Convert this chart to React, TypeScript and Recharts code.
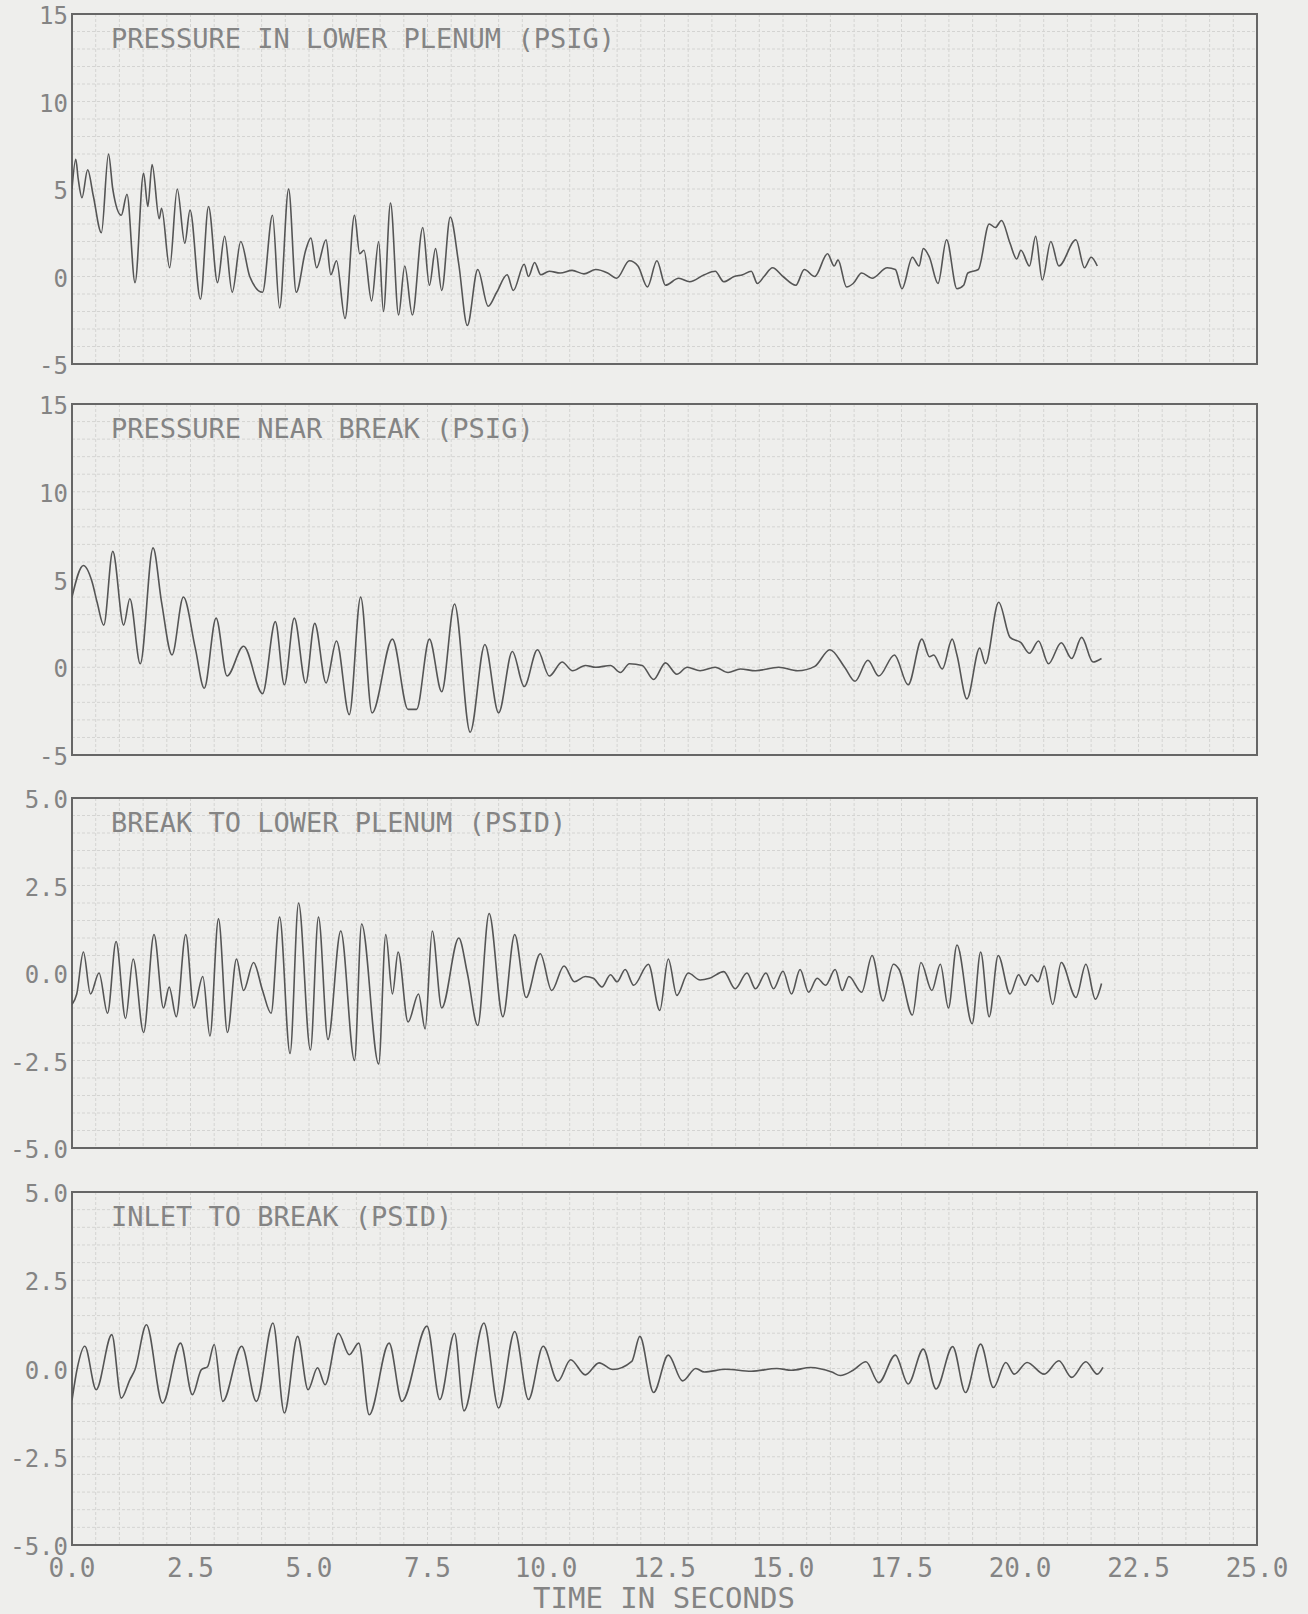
import React from 'react';
import { LineChart, Line, XAxis, YAxis, CartesianGrid, ReferenceArea } from 'recharts';

const FONT = '"DejaVu Sans Mono", "Liberation Mono", monospace';
const INK = '#848484';
const FRAME = '#666666';
const TRACE = '#555555';
const GRID = '#d4d4d2';
const PAPER = '#eeeeec';

// ---------- data (time in seconds, value) ----------
const p1Time = [0.0, 0.08, 0.13, 0.21, 0.33, 0.45, 0.62, 0.77, 0.86, 1.04, 1.16, 1.33, 1.51, 1.6, 1.69, 1.84, 1.89, 2.06, 2.22, 2.38, 2.49, 2.71, 2.88, 3.07, 3.22, 3.38, 3.56, 3.75, 4.02, 4.23, 4.38, 4.57, 4.73, 4.93, 5.04, 5.16, 5.36, 5.46, 5.58, 5.76, 5.96, 6.07, 6.16, 6.32, 6.47, 6.57, 6.72, 6.89, 7.02, 7.18, 7.4, 7.54, 7.67, 7.8, 7.98, 8.16, 8.34, 8.56, 8.78, 8.96, 9.18, 9.31, 9.54, 9.63, 9.76, 9.89, 10.07, 10.3, 10.55, 10.8, 11.05, 11.3, 11.49, 11.76, 11.94, 12.14, 12.34, 12.52, 12.8, 13.03, 13.34, 13.57, 13.75, 13.97, 14.15, 14.33, 14.46, 14.6, 14.78, 15.0, 15.27, 15.45, 15.67, 15.94, 16.08, 16.16, 16.34, 16.48, 16.66, 16.88, 17.2, 17.37, 17.51, 17.73, 17.87, 17.96, 18.09, 18.27, 18.45, 18.67, 18.81, 18.9, 19.12, 19.35, 19.48, 19.61, 19.79, 19.93, 20.02, 20.2, 20.33, 20.47, 20.65, 20.82, 21.18, 21.36, 21.5, 21.63];
const p1Value = [5.0, 6.7, 5.6, 4.5, 6.1, 4.6, 2.5, 7.0, 5.0, 3.5, 4.7, -0.35, 5.9, 4.0, 6.4, 3.3, 3.9, 0.5, 5.0, 1.9, 3.8, -1.3, 4.0, -0.35, 2.3, -0.9, 2.0, 0.0, -0.9, 3.5, -1.8, 5.0, -0.9, 1.5, 2.2, 0.5, 2.1, 0.1, 0.9, -2.4, 3.5, 1.3, 1.5, -1.4, 2.0, -2.0, 4.2, -2.2, 0.6, -2.2, 2.8, -0.5, 1.6, -0.8, 3.4, 0.7, -2.8, 0.4, -1.7, -0.9, 0.1, -0.8, 0.7, 0.0, 0.8, 0.1, 0.3, 0.2, 0.35, 0.15, 0.4, 0.2, -0.1, 0.9, 0.6, -0.6, 0.9, -0.5, -0.1, -0.3, 0.1, 0.3, -0.3, 0.0, 0.1, 0.3, -0.4, 0.0, 0.5, 0.0, -0.5, 0.4, 0.0, 1.3, 0.6, 0.95, -0.6, -0.4, 0.2, -0.1, 0.5, 0.4, -0.7, 1.1, 0.6, 1.6, 1.1, -0.4, 2.1, -0.7, -0.5, 0.2, 0.4, 3.0, 2.8, 3.2, 1.9, 1.0, 1.5, 0.6, 2.3, -0.2, 2.0, 0.6, 2.1, 0.5, 1.1, 0.6];

const p2Time = [0.0, 0.24, 0.42, 0.53, 0.67, 0.86, 1.09, 1.22, 1.44, 1.71, 1.89, 2.11, 2.35, 2.6, 2.79, 3.04, 3.27, 3.62, 4.02, 4.29, 4.48, 4.69, 4.93, 5.12, 5.36, 5.58, 5.85, 6.09, 6.33, 6.76, 7.09, 7.27, 7.54, 7.8, 8.07, 8.4, 8.71, 9.0, 9.29, 9.54, 9.82, 10.07, 10.34, 10.56, 10.83, 11.05, 11.36, 11.57, 11.76, 12.03, 12.27, 12.52, 12.76, 12.98, 13.25, 13.57, 13.84, 14.1, 14.42, 14.91, 15.31, 15.67, 15.99, 16.3, 16.52, 16.79, 17.02, 17.35, 17.64, 17.93, 18.09, 18.18, 18.36, 18.57, 18.67, 18.88, 19.15, 19.27, 19.55, 19.79, 20.02, 20.2, 20.39, 20.6, 20.87, 21.09, 21.3, 21.54, 21.72];
const p2Value = [4.0, 5.8, 4.9, 3.7, 2.4, 6.6, 2.4, 3.9, 0.2, 6.8, 3.7, 0.7, 4.0, 1.1, -1.2, 2.8, -0.5, 1.2, -1.5, 2.6, -1.0, 2.8, -0.9, 2.5, -0.9, 1.5, -2.7, 4.0, -2.6, 1.6, -2.4, -2.4, 1.6, -1.4, 3.6, -3.7, 1.3, -2.6, 0.9, -1.1, 1.0, -0.5, 0.3, -0.2, 0.1, 0.0, 0.1, -0.3, 0.2, 0.1, -0.7, 0.25, -0.4, 0.0, -0.2, 0.0, -0.3, -0.1, -0.2, 0.0, -0.2, 0.05, 1.0, 0.0, -0.8, 0.4, -0.5, 0.7, -1.0, 1.6, 0.6, 0.7, -0.1, 1.6, 0.7, -1.8, 1.1, 0.2, 3.7, 1.7, 1.4, 0.8, 1.5, 0.2, 1.4, 0.5, 1.7, 0.3, 0.5];

const p3Time = [0.0, 0.1, 0.24, 0.39, 0.57, 0.75, 0.93, 1.13, 1.29, 1.51, 1.73, 1.93, 2.05, 2.2, 2.4, 2.57, 2.76, 2.91, 3.09, 3.28, 3.47, 3.62, 3.83, 4.02, 4.2, 4.38, 4.6, 4.78, 5.03, 5.2, 5.4, 5.67, 5.96, 6.11, 6.47, 6.62, 6.76, 6.88, 7.09, 7.31, 7.45, 7.6, 7.8, 8.16, 8.34, 8.56, 8.8, 9.09, 9.34, 9.58, 9.88, 10.12, 10.38, 10.6, 10.83, 11.0, 11.18, 11.36, 11.5, 11.67, 11.85, 12.16, 12.4, 12.58, 12.76, 13.0, 13.25, 13.45, 13.75, 13.99, 14.24, 14.42, 14.64, 14.8, 15.0, 15.18, 15.36, 15.54, 15.72, 15.9, 16.1, 16.25, 16.39, 16.66, 16.88, 17.11, 17.33, 17.45, 17.73, 17.91, 18.14, 18.32, 18.49, 18.67, 18.99, 19.17, 19.35, 19.54, 19.79, 19.97, 20.11, 20.24, 20.38, 20.51, 20.69, 20.87, 21.18, 21.39, 21.59, 21.72];
const p3Value = [-0.9, -0.6, 0.6, -0.6, 0.0, -1.15, 0.9, -1.3, 0.4, -1.7, 1.1, -1.0, -0.4, -1.25, 1.1, -1.0, -0.1, -1.8, 1.55, -1.7, 0.4, -0.5, 0.3, -0.5, -1.15, 1.6, -2.3, 2.0, -2.2, 1.6, -1.9, 1.2, -2.5, 1.4, -2.6, 1.1, -0.6, 0.6, -1.4, -0.6, -1.6, 1.2, -1.0, 1.0, 0.0, -1.5, 1.7, -1.25, 1.1, -0.7, 0.55, -0.5, 0.2, -0.25, -0.1, -0.15, -0.4, -0.05, -0.25, 0.1, -0.35, 0.25, -1.07, 0.4, -0.64, 0.0, -0.2, -0.15, 0.04, -0.45, 0.0, -0.45, 0.0, -0.45, 0.05, -0.6, 0.1, -0.55, -0.15, -0.35, 0.1, -0.5, -0.1, -0.55, 0.5, -0.8, 0.25, 0.1, -1.2, 0.3, -0.5, 0.25, -1.0, 0.8, -1.45, 0.6, -1.25, 0.5, -0.6, -0.05, -0.35, -0.05, -0.25, 0.2, -0.9, 0.3, -0.7, 0.25, -0.75, -0.3];

const p4Time = [0.0, 0.11, 0.27, 0.51, 0.84, 1.04, 1.22, 1.33, 1.57, 1.91, 2.29, 2.54, 2.73, 2.86, 3.0, 3.18, 3.58, 3.89, 4.24, 4.48, 4.76, 4.98, 5.18, 5.34, 5.62, 5.85, 6.05, 6.27, 6.69, 6.96, 7.49, 7.76, 8.07, 8.27, 8.69, 9.0, 9.34, 9.63, 9.94, 10.25, 10.52, 10.83, 11.12, 11.41, 11.81, 11.98, 12.27, 12.58, 12.88, 13.16, 13.34, 13.79, 14.33, 14.87, 15.18, 15.58, 16.03, 16.21, 16.48, 16.75, 17.02, 17.37, 17.64, 17.96, 18.23, 18.58, 18.85, 19.17, 19.44, 19.7, 19.88, 20.15, 20.51, 20.82, 21.09, 21.39, 21.63, 21.75];
const p4Value = [-0.9, 0.0, 0.63, -0.6, 0.96, -0.84, -0.32, -0.03, 1.24, -0.98, 0.72, -0.74, -0.03, 0.05, 0.68, -0.93, 0.63, -0.93, 1.29, -1.26, 0.91, -0.6, 0.02, -0.46, 1.0, 0.39, 0.72, -1.31, 0.72, -0.93, 1.2, -0.88, 1.0, -1.2, 1.29, -1.12, 1.05, -0.88, 0.63, -0.36, 0.25, -0.18, 0.16, -0.03, 0.2, 0.91, -0.68, 0.38, -0.35, 0.0, -0.1, -0.02, -0.08, 0.0, -0.05, 0.03, -0.1, -0.2, -0.05, 0.19, -0.4, 0.38, -0.44, 0.55, -0.58, 0.62, -0.68, 0.69, -0.54, 0.17, -0.16, 0.17, -0.16, 0.22, -0.25, 0.19, -0.16, 0.03];

// ---------- ticks & labels ----------
const xLabelTicks = [0, 2.5, 5, 7.5, 10, 12.5, 15, 17.5, 20, 22.5, 25];
const xLabelText = ['0.0', '2.5', '5.0', '7.5', '10.0', '12.5', '15.0', '17.5', '20.0', '22.5', '25.0'];
const psigLabelTicks = [15, 10, 5, 0, -5];
const psigLabelText = ['15', '10', '5', '0', '-5'];
const psidLabelTicks = [5, 2.5, 0, -2.5, -5];
const psidLabelText = ['5.0', '2.5', '0.0', '-2.5', '-5.0'];

const titles = [
  'PRESSURE IN LOWER PLENUM (PSIG)',
  'PRESSURE NEAR BREAK (PSIG)',
  'BREAK TO LOWER PLENUM (PSID)',
  'INLET TO BREAK (PSID)',
];
const xTitle = 'TIME IN SECONDS';

const stepTicks = (lo: number, hi: number, step: number) => {
  const out: number[] = [];
  const n = Math.round((hi - lo) / step);
  for (let i = 0; i <= n; i++) out.push(Math.round((lo + i * step) * 1000) / 1000);
  return out;
};
const xGridTicks = stepTicks(0, 25, 0.5);

const findLabel = (v: number, ticks: number[], text: string[]) => {
  const i = ticks.findIndex((t) => Math.abs(t - v) < 1e-6);
  return i >= 0 ? text[i] : null;
};

const YTick = (props: any) => {
  const { x, y, payload, labelTicks, labelText } = props;
  const s = findLabel(payload.value, labelTicks, labelText);
  if (s === null) return <g />;
  return (
    <text x={x} y={y + 2} textAnchor="end" dominantBaseline="central" fontFamily={FONT} fontSize={24} fill={INK}>
      {s}
    </text>
  );
};

const XTick = (props: any) => {
  const { x, y, payload, show } = props;
  if (!show) return <g />;
  const s = findLabel(payload.value, xLabelTicks, xLabelText);
  if (s === null) return <g />;
  return (
    <text x={x} y={y + 23} textAnchor="middle" dominantBaseline="central" fontFamily={FONT} fontSize={26} fill={INK}>
      {s}
    </text>
  );
};

type PanelProps = {
  title: string;
  time: number[];
  value: number[];
  top: number;
  bottom: number;
  yDomain: [number, number];
  yStep: number;
  labelTicks: number[];
  labelText: string[];
  showX: boolean;
};

function Panel({ title, time, value, top, bottom, yDomain, yStep, labelTicks, labelText, showX }: PanelProps) {
  const data = time.map((t, i) => ({ t, v: value[i] }));
  const padTop = 20;
  const xAxisH = showX ? 70 : 1;
  const padBottom = showX ? 0 : 20;
  const height = bottom - top + padTop + padBottom + xAxisH;
  const yGrid = stepTicks(yDomain[0], yDomain[1], yStep);
  return (
    <>
      <div style={{ position: 'absolute', left: 0, top: top - padTop }}>
        <LineChart width={1308} height={height} data={data} margin={{ top: padTop, right: 51, bottom: padBottom, left: 0 }}>
          <CartesianGrid stroke={GRID} strokeDasharray="3 2" strokeWidth={1} />
          <XAxis
            type="number"
            dataKey="t"
            domain={[0, 25]}
            ticks={xGridTicks}
            interval={0}
            height={xAxisH}
            axisLine={false}
            tickLine={false}
            tickSize={0}
            tickMargin={0}
            allowDataOverflow
            tick={<XTick show={showX} />}
          />
          <YAxis
            type="number"
            domain={yDomain}
            ticks={yGrid}
            interval={0}
            width={72}
            axisLine={false}
            tickLine={false}
            tickSize={0}
            tickMargin={4}
            allowDataOverflow
            tick={<YTick labelTicks={labelTicks} labelText={labelText} />}
          />
          <ReferenceArea x1={0} x2={25} y1={yDomain[0]} y2={yDomain[1]} fill="none" fillOpacity={0} stroke={FRAME} strokeWidth={2} ifOverflow="visible" />
          <Line type="monotone" dataKey="v" stroke={TRACE} strokeWidth={1.6} dot={false} isAnimationActive={false} />
        </LineChart>
      </div>
      <div
        style={{
          position: 'absolute',
          left: 111,
          top: top + 11,
          fontFamily: FONT,
          fontSize: 27,
          lineHeight: 1,
          color: INK,
          whiteSpace: 'pre',
        }}
      >
        {title}
      </div>
    </>
  );
}

export default function App() {
  return (
    <div style={{ position: 'absolute', left: 0, top: 0, width: 1308, height: 1614, background: PAPER, overflow: 'hidden' }}>
      <Panel title={titles[0]} time={p1Time} value={p1Value} top={14} bottom={364} yDomain={[-5, 15]} yStep={1} labelTicks={psigLabelTicks} labelText={psigLabelText} showX={false} />
      <Panel title={titles[1]} time={p2Time} value={p2Value} top={404} bottom={755} yDomain={[-5, 15]} yStep={1} labelTicks={psigLabelTicks} labelText={psigLabelText} showX={false} />
      <Panel title={titles[2]} time={p3Time} value={p3Value} top={798} bottom={1148} yDomain={[-5, 5]} yStep={0.5} labelTicks={psidLabelTicks} labelText={psidLabelText} showX={false} />
      <Panel title={titles[3]} time={p4Time} value={p4Value} top={1192} bottom={1545} yDomain={[-5, 5]} yStep={0.5} labelTicks={psidLabelTicks} labelText={psidLabelText} showX={true} />
      <div
        style={{
          position: 'absolute',
          left: 0,
          width: 1328,
          top: 1584,
          textAlign: 'center',
          fontFamily: FONT,
          fontSize: 29,
          lineHeight: 1,
          color: INK,
          whiteSpace: 'pre',
        }}
      >
        {xTitle}
      </div>
    </div>
  );
}
